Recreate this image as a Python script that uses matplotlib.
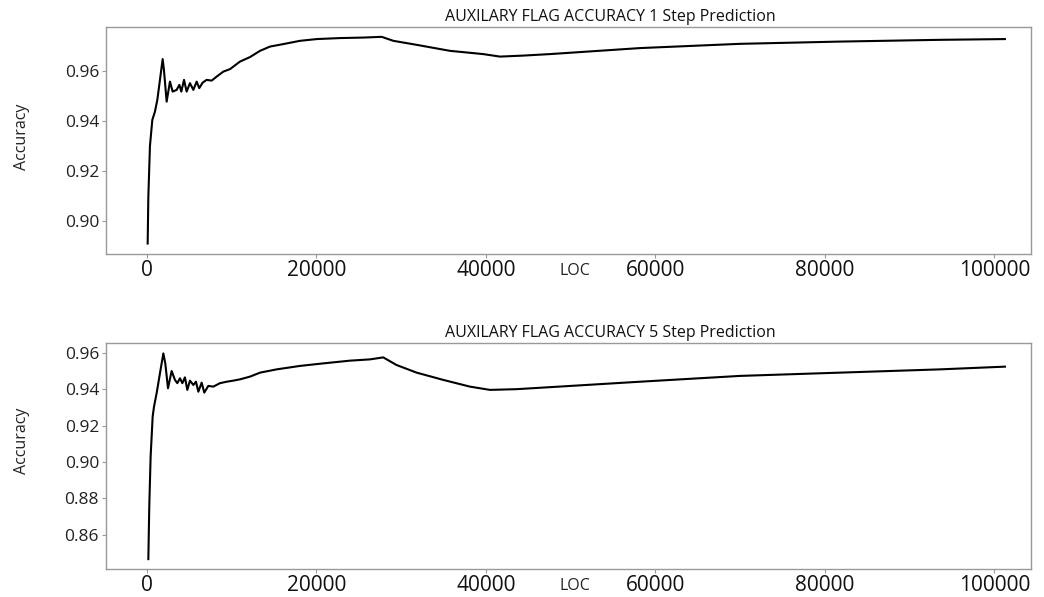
import numpy as np
import matplotlib.pyplot as plt

plt.rcParams['font.family'] = ['Open Sans', 'DejaVu Sans']

# values
loc_1 = [80, 160, 350, 630, 940, 1220, 1530, 1850, 2000, 2320, 2710, 3030, 3500,
         3820, 4050, 4370, 4680, 5070, 5470, 5860, 6170, 6570, 7040, 7630, 8220,
         9010, 9800, 10970, 12150, 13340, 14510, 16090, 18050, 20020, 22770,
         25520, 27690, 29070, 31820, 35750, 39680, 41650, 44400, 47550, 58170,
         69970, 81770, 93570, 101240]
acc_1 = [0.891, 0.9097, 0.930, 0.9404, 0.9437, 0.9484, 0.9564, 0.9647, 0.9604,
         0.9477, 0.9557, 0.9517, 0.9524, 0.9544, 0.9517, 0.9564, 0.9517, 0.9551,
         0.9524, 0.9557, 0.9531, 0.9553, 0.9564, 0.9561, 0.9577, 0.9597, 0.9607,
         0.9637, 0.9655, 0.968, 0.9697, 0.9707, 0.972, 0.9727, 0.9731, 0.9733,
         0.9736, 0.972, 0.9704, 0.968, 0.9667, 0.9657, 0.9661, 0.9667, 0.9691,
         0.9708, 0.9717, 0.9724, 0.9727]

loc_5 = [160, 270, 430, 670, 830, 1140, 1530, 1930, 2160, 2480, 2910, 3300, 3580,
         3890, 4170, 4480, 4760, 5070, 5470, 5780, 6060, 6450, 6760, 7240, 7830,
         8610, 9400, 10190, 10970, 12150, 13340, 15300, 18050, 20800, 23950,
         26310, 27880, 29450, 31820, 34960, 38110, 40470, 43620, 47550, 58170,
         69970, 81770, 93570, 101240]
acc_5 = [0.8465, 0.8755, 0.903, 0.925, 0.9305, 0.9379, 0.9488, 0.9598, 0.9543,
         0.9406, 0.9501, 0.9452, 0.9434, 0.9461, 0.9434, 0.9466, 0.9397, 0.9448,
         0.9424, 0.9442, 0.9387, 0.9437, 0.9382, 0.9419, 0.9415, 0.9434, 0.9442,
         0.9448, 0.9455, 0.947, 0.9492, 0.951, 0.9529, 0.9543, 0.9558, 0.9565,
         0.9576, 0.9534, 0.9492, 0.9452, 0.9415, 0.9397, 0.9401, 0.9412, 0.9442,
         0.9474, 0.9492, 0.951, 0.9525]

titles = ['AUXILARY FLAG ACCURACY 1 Step Prediction',
          'AUXILARY FLAG ACCURACY 5 Step Prediction']
xticks = [0, 20000, 40000, 60000, 80000, 100000]

fig = plt.figure(figsize=(10.44, 5.97), dpi=100)
ax1 = fig.add_axes([0.1015, 0.5745, 0.886, 0.381])
ax2 = fig.add_axes([0.1015, 0.0464, 0.886, 0.3796])

panels = [(ax1, loc_1, acc_1, (0.8868, 0.9777), [0.90, 0.92, 0.94, 0.96]),
          (ax2, loc_5, acc_5, (0.8409, 0.9657), [0.86, 0.88, 0.90, 0.92, 0.94, 0.96])]

for i, (ax, x, y, ylim, yt) in enumerate(panels):
    ax.plot(x, y, color='black', lw=1.5)
    ax.set_xlim(-4840, 104310)
    ax.set_ylim(*ylim)
    ax.set_xticks(xticks)
    ax.set_yticks(yt)
    ax.set_yticklabels([f'{v:.2f}' for v in yt])
    ax.tick_params(axis='x', labelsize=15, length=3, color='#999999', pad=1, labelcolor='#111111')
    ax.tick_params(axis='y', labelsize=12.5, length=3, color='#999999', pad=2, labelcolor='#222222')
    for s in ax.spines.values():
        s.set_color('#999999')
        s.set_linewidth(1.0)
    ax.set_title(titles[i], fontsize=11.5, x=0.545, pad=4, color='#111111')
    ax.text(0.507, -0.075, 'LOC', transform=ax.transAxes, ha='center', va='center',
            fontsize=11.5, color='#222222')

fig.text(0.021, 0.771, 'Accuracy', rotation=90, ha='center', va='center', fontsize=11.5, color='#222222')
fig.text(0.021, 0.261, 'Accuracy', rotation=90, ha='center', va='center', fontsize=11.5, color='#222222')

fig.savefig('out.png', dpi=100)
